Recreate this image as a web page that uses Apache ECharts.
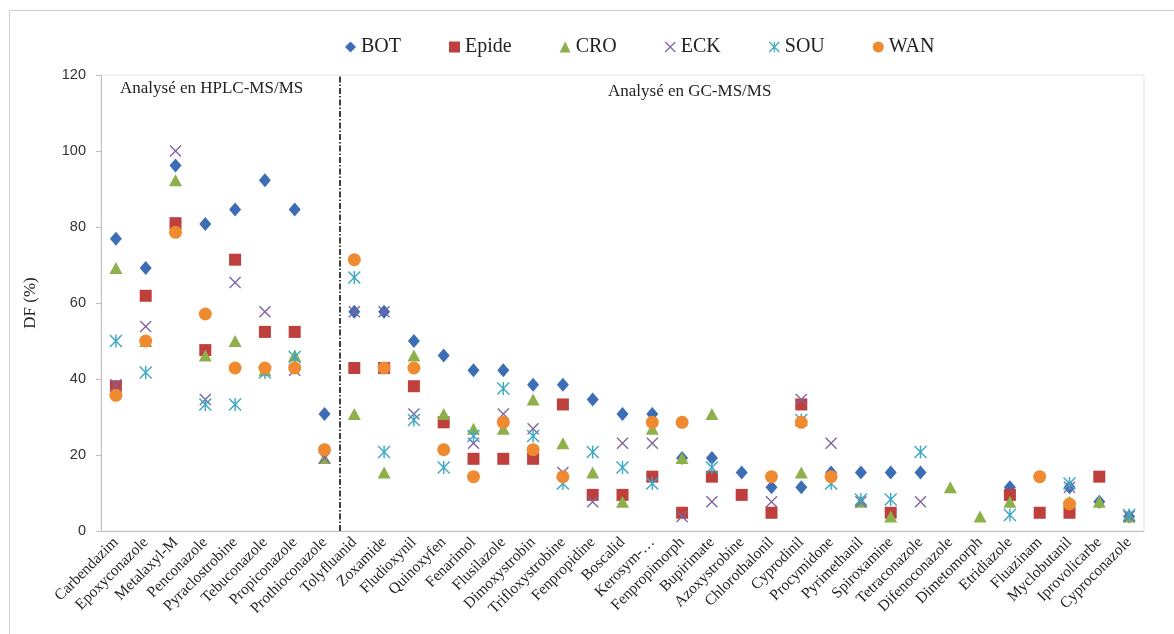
<!DOCTYPE html>
<html>
<head>
<meta charset="utf-8">
<script src="https://cdn.jsdelivr.net/npm/echarts@6/dist/echarts.min.js"></script>
<style>
  html, body { margin: 0; padding: 0; background: #fff; }
  #frame { position: absolute; left: 9px; top: 10px; width: 1170px; height: 640px; border: 1px solid #d0d0d0; }
  #chart-container { position: absolute; left: 0; top: 0; width: 1174px; height: 634px; }
</style>
</head>
<body>
<div id="frame"></div>
<div id="chart-container"></div>
<script>
const categories = ['Carbendazim', 'Epoxyconazole', 'Metalaxyl-M', 'Penconazole', 'Pyraclostrobine', 'Tebuconazole',
	'Propiconazole', 'Prothioconazole', 'Tolyfluanid', 'Zoxamide', 'Fludioxynil', 'Quinoxyfen', 'Fenarimol',
	'Flusilazole', 'Dimoxystrobin', 'Trifloxystrobine', 'Fenpropidine', 'Boscalid', 'Kerosym-…', 'Fenpropimorph',
	'Bupirimate', 'Azoxystrobine', 'Chlorothalonil', 'Cyprodinil', 'Procymidone', 'Pyrimethanil', 'Spiroxamine',
	'Tetraconazole', 'Difenoconazole', 'Dimetomorph', 'Etridiazole', 'Fluazinam', 'Myclobutanil', 'Iprovolicarbe',
	'Cyproconazole'];

const bot = [76.9, 69.2, 96.2, 80.8, 84.6, 92.3, 84.6, 30.8, 57.7, 57.7, 50, 46.2, 42.3, 42.3, 38.5, 38.5, 34.6, 30.8,
	30.8, 19.2, 19.2, 15.4, 11.5, 11.5, 15.4, 15.4, 15.4, 15.4, null, null, 11.5, null, 11.5, 7.7, 3.8];
const epide = [38.1, 61.9, 81.0, 47.6, 71.4, 52.4, 52.4, null, 42.9, 42.9, 38.1, 28.6, 19.0, 19.0, 19.0, 33.3, 9.5, 9.5,
	14.3, 4.8, 14.3, 9.5, 4.8, 33.3, null, null, 4.8, null, null, null, 9.5, 4.8, 4.8, 14.3, null];
const cro = [69.2, 50, 92.3, 46.2, 50, 42.3, 46.2, 19.2, 30.8, 15.4, 46.2, 30.8, 26.9, 26.9, 34.6, 23.1, 15.4, 7.7,
	26.9, 19.2, 30.8, null, null, 15.4, null, 7.7, 3.8, null, 11.5, 3.8, 7.7, null, 7.7, 7.7, 3.8];
const eck = [38.5, 53.8, 100, 34.6, 65.4, 57.7, 42.3, 19.2, 57.7, 57.7, 30.8, null, 23.1, 30.8, 26.9, 15.4, 7.7, 23.1,
	23.1, 3.8, 7.7, null, 7.7, 34.6, 23.1, 7.7, null, 7.7, null, null, null, null, 11.5, null, 3.8];
const sou = [50, 41.7, null, 33.3, 33.3, 41.7, 45.8, null, 66.7, 20.8, 29.2, 16.7, 25, 37.5, 25, 12.5, 20.8, 16.7,
	12.5, null, 16.7, null, null, 29.2, 12.5, 8.3, 8.3, 20.8, null, null, 4.2, null, 12.5, null, 4.2];
const wan = [35.7, 50, 78.6, 57.1, 42.9, 42.9, 42.9, 21.4, 71.4, 42.9, 42.9, 21.4, 14.3, 28.6, 21.4, 14.3, null, null,
	28.6, 28.6, null, null, 14.3, 28.6, 14.3, null, null, null, null, null, null, 14.3, 7.1, null, null];

const yTicks = [0, 20, 40, 60, 80, 100, 120];
const splitAfter = 8; // separation HPLC / GC

// croce e asterisco come path (stile Excel)
const crossPath = 'path://M0,0.8L0.8,0L5,4.2L9.2,0L10,0.8L5.8,5L10,9.2L9.2,10L5,5.8L0.8,10L0,9.2L4.2,5Z';
const starPath = crossPath.replace('Z', 'ZM4.45,0L5.55,0L5.55,10L4.45,10Z');

const serif = '"Liberation Serif", "DejaVu Serif", serif';

const mk = (name, data, symbol, size, color) => ({
	name: name,
	type: 'scatter',
	data: data,
	symbol: symbol,
	symbolSize: size,
	itemStyle: { color: color, opacity: 1 },
	emphasis: { disabled: true }
});

const myChart = echarts.init(document.getElementById('chart-container'));
const option = {
	animation: false,
	legend: {
		top: 32,
		left: 340,
		itemGap: 48,
		itemWidth: 11,
		itemHeight: 11,
		textStyle: { fontFamily: serif, fontSize: 20, color: '#222' },
		data: ['BOT', 'Epide', 'CRO', 'ECK', 'SOU', 'WAN']
	},
	grid: {
		left: 101, right: 30, top: 75, bottom: 103,
		show: true, borderColor: '#e4e4e4', borderWidth: 1
	},
	xAxis: [{
		type: 'category',
		data: categories,
		axisLine: { lineStyle: { color: '#bfbfbf' } },
		axisTick: { lineStyle: { color: '#bfbfbf' }, length: 5 },
		axisLabel: {
			rotate: 45, interval: 0, margin: 9,
			fontFamily: serif, fontSize: 15.5, color: '#222'
		},
		splitLine: { show: false }
	}, {
		type: 'value',
		min: 0, max: categories.length,
		show: false
	}],
	yAxis: {
		type: 'value',
		min: yTicks[0], max: yTicks[yTicks.length - 1], interval: 20,
		name: 'DF (%)',
		nameLocation: 'center',
		nameGap: 62,
		nameTextStyle: { fontFamily: serif, fontSize: 17, color: '#222' },
		axisLine: { show: true, lineStyle: { color: '#bfbfbf' } },
		axisTick: { show: true, lineStyle: { color: '#bfbfbf' }, length: 5 },
		axisLabel: { fontFamily: '"Liberation Sans", Arial, sans-serif', fontSize: 14.5, color: '#333', margin: 15 },
		splitLine: { show: false }
	},
	graphic: [
		{ type: 'text', left: 120, top: 80, style: { text: 'Analysé en HPLC-MS/MS', font: '17px ' + serif, fill: '#222' } },
		{ type: 'text', left: 608, top: 83, style: { text: 'Analysé en GC-MS/MS', font: '17px ' + serif, fill: '#222' } }
	],
	series: [
		mk('BOT', bot, 'diamond', [12, 14], '#3D6DB5'),
		mk('Epide', epide, 'rect', 12, '#BE3F3C'),
		mk('CRO', cro, 'triangle', [13, 12], '#8DB04A'),
		mk('ECK', eck, crossPath, 12, '#8064A2'),
		mk('SOU', sou, starPath, 13, '#3FA9C4'),
		mk('WAN', wan, 'circle', 13, '#F08A30'),
		{
			name: 'separator',
			type: 'scatter',
			xAxisIndex: 1,
			data: [],
			silent: true,
			markLine: {
				symbol: 'none',
				silent: true,
				label: { show: false },
				lineStyle: { color: '#000', type: [6, 2, 1.5, 2], width: 1.5 },
				data: [{ xAxis: splitAfter }]
			}
		}
	]
};

myChart.setOption(option);
</script>
</body>
</html>
